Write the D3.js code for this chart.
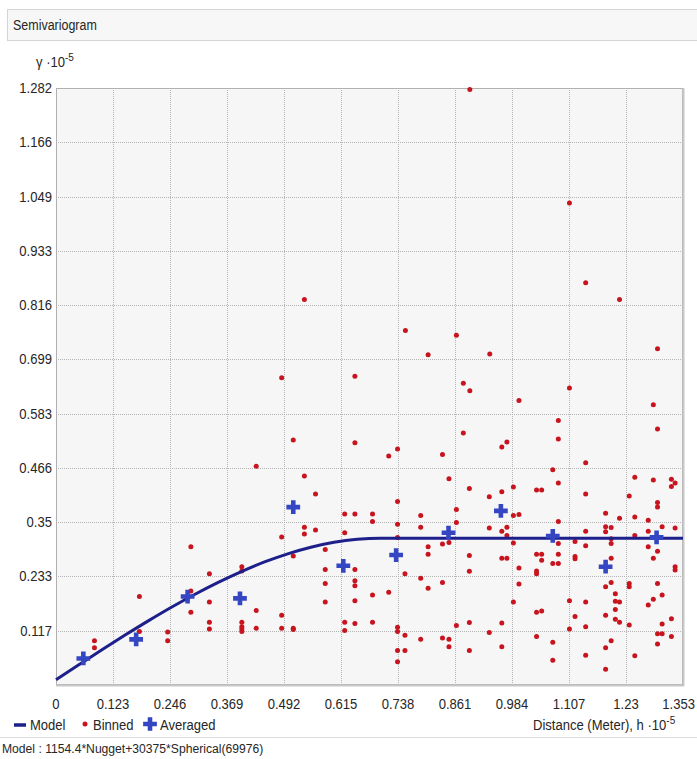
<!DOCTYPE html>
<html><head><meta charset="utf-8">
<script src="https://cdn.jsdelivr.net/npm/d3@7"></script>
<style>
body{margin:0;background:#fff;}
svg{display:block;font-family:"Liberation Sans",Arial,sans-serif;}
</style>
</head><body><svg id="c" width="697" height="759"></svg>
<script>
// ---- data (units: h ·10^-5, γ ·10^-5) ----
const binnedH=[0.083,0.083,0.180,0.180,0.241,0.241,0.291,0.291,0.291,0.331,0.331,0.331,0.331,0.401,0.401,0.401,0.401,0.401,0.401,0.432,0.432,0.432,0.487,0.487,0.487,0.487,0.512,0.512,0.512,0.512,0.536,0.536,0.536,0.536,0.560,0.560,0.581,0.581,0.581,0.581,0.623,0.623,0.623,0.623,0.645,0.645,0.645,0.645,0.645,0.645,0.645,0.645,0.683,0.683,0.683,0.683,0.718,0.718,0.737,0.737,0.737,0.737,0.737,0.737,0.737,0.737,0.753,0.753,0.753,0.754,0.787,0.787,0.787,0.787,0.803,0.803,0.803,0.803,0.834,0.834,0.834,0.834,0.848,0.848,0.848,0.848,0.864,0.864,0.864,0.864,0.879,0.879,0.893,0.893,0.892,0.892,0.892,0.892,0.892,0.935,0.935,0.935,0.936,0.962,0.973,0.962,0.962,0.973,0.973,0.962,0.973,0.962,0.962,0.987,0.987,0.987,0.999,0.999,0.999,0.999,1.037,1.048,1.037,1.048,1.048,1.037,1.037,1.037,1.048,1.037,1.072,1.084,1.084,1.084,1.084,1.084,1.084,1.072,1.084,1.072,1.072,1.108,1.108,1.108,1.108,1.120,1.120,1.120,1.120,1.143,1.143,1.143,1.143,1.143,1.143,1.143,1.143,1.186,1.186,1.186,1.198,1.198,1.198,1.198,1.216,1.186,1.198,1.207,1.207,1.216,1.207,1.207,1.216,1.186,1.198,1.186,1.186,1.216,1.237,1.249,1.249,1.249,1.237,1.237,1.237,1.249,1.278,1.278,1.278,1.278,1.289,1.298,1.289,1.298,1.298,1.308,1.298,1.289,1.298,1.308,1.289,1.298,1.308,1.298,1.298,1.328,1.336,1.328,1.336,1.336,1.336,1.328,1.328,1.308,0.987];
const binnedG=[0.095,0.080,0.190,0.115,0.114,0.095,0.297,0.202,0.156,0.239,0.178,0.135,0.120,0.254,0.245,0.135,0.125,0.120,0.115,0.470,0.160,0.122,0.318,0.150,0.122,0.660,0.526,0.277,0.122,0.119,0.449,0.339,0.324,0.828,0.410,0.333,0.291,0.248,0.218,0.178,0.367,0.327,0.135,0.117,0.663,0.520,0.367,0.248,0.224,0.213,0.181,0.132,0.367,0.351,0.193,0.135,0.492,0.199,0.507,0.394,0.345,0.317,0.124,0.115,0.074,0.050,0.239,0.107,0.074,0.761,0.364,0.339,0.229,0.098,0.297,0.281,0.208,0.709,0.495,0.303,0.220,0.101,0.443,0.306,0.098,0.082,0.377,0.349,0.128,0.751,0.541,0.648,1.279,0.632,0.422,0.278,0.244,0.134,0.074,0.404,0.337,0.113,0.711,0.511,0.522,0.415,0.330,0.339,0.321,0.272,0.272,0.133,0.082,0.425,0.305,0.178,0.611,0.366,0.251,0.217,0.419,0.419,0.281,0.281,0.268,0.245,0.239,0.156,0.159,0.104,0.462,0.568,0.528,0.434,0.351,0.304,0.281,0.261,0.261,0.092,0.053,1.035,0.638,0.181,0.120,0.308,0.276,0.271,0.147,0.864,0.477,0.410,0.330,0.299,0.178,0.125,0.064,0.369,0.340,0.329,0.338,0.314,0.304,0.272,0.358,0.211,0.220,0.196,0.180,0.178,0.162,0.141,0.135,0.150,0.095,0.080,0.034,0.828,0.406,0.446,0.361,0.321,0.218,0.211,0.129,0.063,0.354,0.330,0.297,0.172,0.602,0.550,0.440,0.392,0.382,0.340,0.287,0.272,0.218,0.193,0.184,0.110,0.110,0.088,0.722,0.442,0.434,0.426,0.337,0.254,0.247,0.142,0.104,0.131,0.364];
const avgH=[0.059,0.173,0.284,0.397,0.512,0.620,0.734,0.847,0.960,1.072,1.186,1.296];
const avgG=[0.057,0.098,0.190,0.186,0.382,0.256,0.279,0.327,0.374,0.320,0.254,0.317];
// model curve values read along the fitted spherical model
const modelH=[0,0.05,0.1,0.15,0.2,0.25,0.3,0.35,0.4,0.45,0.5,0.55,0.6,0.65,0.7,1.353];
const modelG=[0.0115,0.0440,0.0762,0.1077,0.1382,0.1674,0.1949,0.2204,0.2436,0.2642,0.2817,0.2959,0.3065,0.3130,0.3153,0.3153];
const xTickLabels=["0","0.123","0.246","0.369","0.492","0.615","0.738","0.861","0.984","1.107","1.23","1.353"];
const yTickLabels=["0.117","0.233","0.35","0.466","0.583","0.699","0.816","0.933","1.049","1.166","1.282"];
const titleText="Semivariogram";
const modelText="Model : 1154.4*Nugget+30375*Spherical(69976)";
const legendLabels=["Model","Binned","Averaged"];

const svg=d3.select("#c");
const W=697,H=759;
const L=56,R=683,T=88,B=685;
const x=d3.scaleLinear().domain([0,1.353]).range([L,R]);
const y=d3.scaleLinear().domain([0,1.282]).range([B,T]);
const SX=0.87, COL="#262626";
function txt(parent,tx,ty,size,anchor,sx){
  return parent.append("text").attr("transform",`translate(${tx},${ty}) scale(${sx||SX},1)`)
    .attr("font-size",size).attr("text-anchor",anchor||"start").attr("fill",COL);
}

// header
svg.append("rect").attr("x",7.5).attr("y",9.5).attr("width",W).attr("height",31).attr("fill","#f7f7f7").attr("stroke","#d4d4d4");
txt(svg,13,30,14.5,"start",0.86).text(titleText);

// plot background
svg.append("rect").attr("x",L).attr("y",T).attr("width",R-L).attr("height",B-T).attr("fill","#f6f6f6");

// grid
const xt=xTickLabels.map(Number), yt=yTickLabels.map(Number);
svg.append("g").selectAll("line").data(xt.slice(1,-1)).join("line")
  .attr("x1",d=>Math.round(x(d))+0.5).attr("x2",d=>Math.round(x(d))+0.5).attr("y1",T).attr("y2",B)
  .attr("stroke","#b5b5b5").attr("stroke-dasharray","1,1");
svg.append("g").selectAll("line").data(yt.slice(0,-1)).join("line")
  .attr("y1",d=>Math.round(y(d))+0.5).attr("y2",d=>Math.round(y(d))+0.5).attr("x1",L).attr("x2",R)
  .attr("stroke","#b5b5b5").attr("stroke-dasharray","1,1");

// border
svg.append("rect").attr("x",L+0.5).attr("y",T+0.5).attr("width",R-L-1).attr("height",B-T-1).attr("fill","none").attr("stroke","#b0b0b0");
svg.append("line").attr("x1",L).attr("x2",R+1).attr("y1",B+0.5).attr("y2",B+0.5).attr("stroke","#c8c8c8").attr("stroke-width",2);
svg.append("line").attr("x1",R+0.5).attr("x2",R+0.5).attr("y1",T).attr("y2",B+1).attr("stroke","#c8c8c8").attr("stroke-width",2);

// axis tick labels
const gx=svg.append("g");
xTickLabels.forEach((d,i)=>{
  const last=i===xTickLabels.length-1;
  txt(gx,last?695:x(xt[i]),709,15,last?"end":"middle").text(d);
});
const gy=svg.append("g");
yTickLabels.forEach((d,i)=>{ txt(gy,52,y(yt[i])+5,15,"end").text(d); });

// y unit
const yu=txt(svg,36,67,15,"start");
yu.append("tspan").text("γ ·10");
yu.append("tspan").attr("dy",-6).attr("font-size",11.5).text("-5");

// binned points
svg.append("g").selectAll("circle").data(binnedH).join("circle")
  .attr("cx",(d,i)=>x(d)).attr("cy",(d,i)=>y(binnedG[i])).attr("r",2.5).attr("fill","#c8141e");

// model line
const line=d3.line().x(d=>x(d[0])).y(d=>y(d[1])).curve(d3.curveMonotoneX);
svg.append("path").datum(modelH.map((h,i)=>[h,modelG[i]])).attr("d",line)
  .attr("fill","none").attr("stroke","#1d1f8a").attr("stroke-width",3);

// averaged
const cross=d3.symbol().type(d3.symbolCross).size(105);
svg.append("g").selectAll("path").data(avgH).join("path")
  .attr("transform",(d,i)=>`translate(${x(d)},${y(avgG[i])})`).attr("d",cross).attr("fill","#3446c2");

// legend
const ly=725;
svg.append("line").attr("x1",14).attr("x2",26).attr("y1",ly).attr("y2",ly).attr("stroke","#1d1f8a").attr("stroke-width",3.5);
txt(svg,30,ly+5,15,"start").text(legendLabels[0]);
svg.append("circle").attr("cx",85).attr("cy",ly-1).attr("r",2.5).attr("fill","#c8141e");
txt(svg,93,ly+5,15,"start").text(legendLabels[1]);
svg.append("path").attr("transform",`translate(150,${ly-1})`).attr("d",cross).attr("fill","#3446c2");
txt(svg,160,ly+5,15,"start").text(legendLabels[2]);

const dt=txt(svg,533,ly+5,15,"start");
dt.append("tspan").text("Distance (Meter), h ·10");
dt.append("tspan").attr("dy",-6).attr("font-size",11.5).text("-5");

// footer
svg.append("line").attr("x1",0).attr("x2",W).attr("y1",737.5).attr("y2",737.5).attr("stroke","#dcdcdc");
txt(svg,2,753,13.5,"start",0.9).text(modelText);
</script>
</body></html>
